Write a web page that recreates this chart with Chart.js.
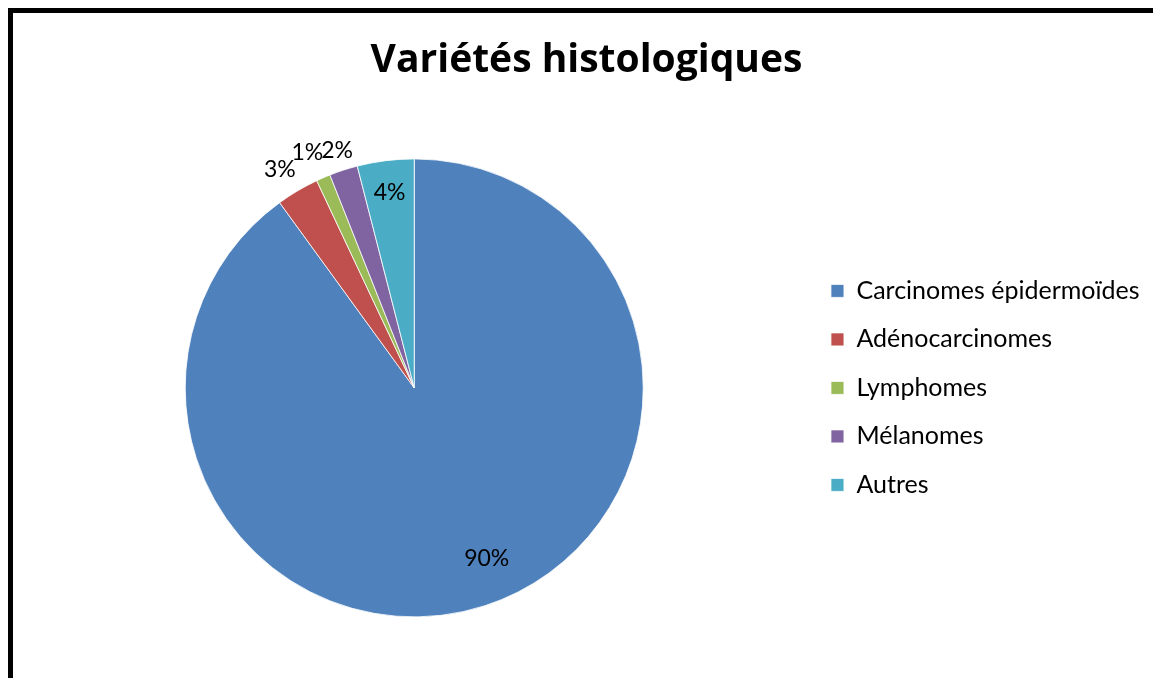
<!DOCTYPE html>
<html>
<head>
<meta charset="utf-8">
<script src="https://cdn.jsdelivr.net/npm/chart.js@4.4.1/dist/chart.umd.min.js"></script>
<style>
  html, body { margin: 0; padding: 0; background: #fff; overflow: hidden; width: 1153px; height: 678px; }
  #frame { position: absolute; left: 8px; top: 8px; width: 1200px; height: 720px; border: 5px solid #000; box-sizing: border-box; }
  #wrap { position: absolute; left: 0; top: 0; width: 1174px; height: 678px; }
</style>
</head>
<body>
<div id="frame"></div>
<div id="wrap"><canvas id="c"></canvas></div>
<script>
const titleText = "Variétés histologiques";
const categories = ["Carcinomes épidermoïdes", "Adénocarcinomes", "Lymphomes", "Mélanomes", "Autres"];
const values = [90, 3, 1, 2, 4];
const valueLabels = ["90%", "3%", "1%", "2%", "4%"];
const colors = ["#4F81BD", "#C0504D", "#9BBB59", "#8064A2", "#4BACC6"];
const labelRadiusFactors = [0.81, 1.12, 1.13, 1.09, 0.86];
const labelAngleShiftDeg = [-5, -1, -1, 0, 0];

const FONT = "Lato, 'Open Sans', sans-serif";

const pctLabels = {
  id: 'pctLabels',
  afterDatasetsDraw(chart) {
    const ctx = chart.ctx;
    const meta = chart.getDatasetMeta(0);
    ctx.save();
    ctx.font = "23px " + FONT;
    ctx.fillStyle = "#000";
    ctx.textAlign = "center";
    ctx.textBaseline = "middle";
    meta.data.forEach((arc, i) => {
      const mid = (arc.startAngle + arc.endAngle) / 2 + labelAngleShiftDeg[i] * Math.PI / 180;
      const r = arc.outerRadius * labelRadiusFactors[i];
      ctx.fillText(valueLabels[i], arc.x + Math.cos(mid) * r, arc.y + Math.sin(mid) * r);
    });
    ctx.restore();
  }
};

// empty layout box on the far right, so the legend sits left of the title's right edge
const rightSpacer = {
  id: 'rightSpacer',
  beforeInit(chart) {
    const box = {
      position: 'right', weight: 3000, fullSize: false,
      options: { display: false, stack: undefined, stackWeight: 1 },
      left: 0, top: 0, right: 0, bottom: 0, width: 0, height: 0,
      isHorizontal() { return false; },
      update(maxWidth, maxHeight) { this.width = 2.5; this.height = maxHeight; },
      getPadding() { return { left: 0, right: 0, top: 0, bottom: 0 }; },
      draw() {}
    };
    Chart.layouts.addBox(chart, box);
  }
};

new Chart(document.getElementById('c'), {
  type: 'pie',
  data: {
    labels: categories,
    datasets: [{
      data: values,
      backgroundColor: colors,
      borderColor: "#ffffff",
      borderWidth: 0.8,
      radius: 229
    }]
  },
  options: {
    responsive: true,
    maintainAspectRatio: false,
    animation: false,
    layout: { padding: { left: 21, right: 22, top: 0, bottom: 2 } },
    plugins: {
      tooltip: { enabled: false },
      title: {
        display: true,
        text: titleText,
        color: "#000",
        font: { family: "'Open Sans', Lato, sans-serif", size: 39, weight: 'bold', lineHeight: 1.2 },
        padding: { top: 37, bottom: 16 }
      },
      legend: {
        position: 'right',
        align: 'center',
        fullSize: false,
        labels: {
          color: "#000",
          font: { family: FONT, size: 25 },
          boxWidth: 13,
          boxHeight: 13,
          padding: 23.5
        }
      }
    }
  },
  plugins: [pctLabels, rightSpacer]
});
</script>
</body>
</html>
